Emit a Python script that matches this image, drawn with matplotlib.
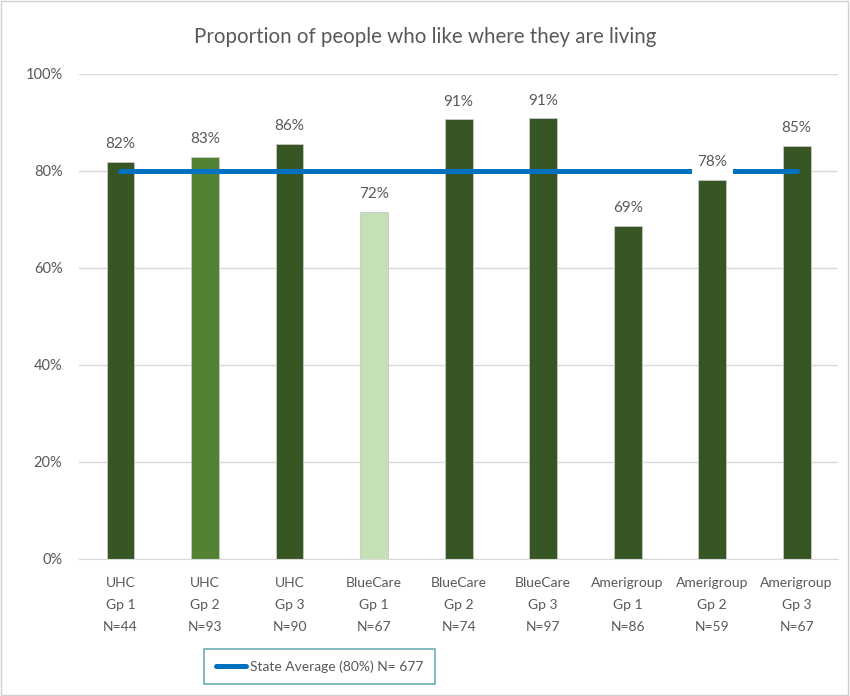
import matplotlib
matplotlib.use("Agg")
import matplotlib.pyplot as plt
from matplotlib.patches import Rectangle
from matplotlib.ticker import FuncFormatter

plt.rcParams["font.family"] = ["Lato", "DejaVu Sans"]

# data
groups = ["UHC\nGp 1\nN=44", "UHC\nGp 2\nN=93", "UHC\nGp 3\nN=90",
          "BlueCare\nGp 1\nN=67", "BlueCare\nGp 2\nN=74", "BlueCare\nGp 3\nN=97",
          "Amerigroup\nGp 1\nN=86", "Amerigroup\nGp 2\nN=59", "Amerigroup\nGp 3\nN=67"]
pct = [81.8, 82.9, 85.6, 71.6, 90.6, 90.8, 68.7, 78.1, 85.1]
state_avg = 80.0
colors = ["#375623", "#548235", "#375623", "#C5E0B4", "#375623",
          "#375623", "#375623", "#375623", "#375623"]

TXT = "#595959"

fig = plt.figure(figsize=(8.5, 6.96), dpi=100)
ax = fig.add_axes([0.093, 0.197, 0.893, 0.697])

x = list(range(len(groups)))
ax.bar(x, pct, width=0.33, color=colors, edgecolor="#C8C8C8", linewidth=0.6, zorder=2)
ax.plot(x, [state_avg] * len(x), color="#0070C0", linewidth=3.6,
        solid_capstyle="round", zorder=3, label="State Average (80%) N= 677")

for i, v in enumerate(pct):
    bb = dict(facecolor="white", edgecolor="none", pad=4) if i == 7 else None
    ax.text(i, v + 2.2, f"{v:.0f}%", ha="center", va="bottom", fontsize=11,
            color=TXT, bbox=bb, zorder=4)

ax.set_xlim(-0.49, len(groups) - 0.51)
ax.set_ylim(0, 100)
ax.set_yticks(range(0, 101, 20))
ax.yaxis.set_major_formatter(FuncFormatter(lambda v, _: f"{v:.0f}%"))
ax.set_xticks(x)
ax.set_xticklabels(groups, linespacing=2.0)
ax.tick_params(axis="both", length=0, labelsize=10.5, labelcolor=TXT)
ax.tick_params(axis="x", pad=13, labelsize=10)
ax.tick_params(axis="y", pad=12)
ax.grid(axis="y", color="#D9D9D9", linewidth=1, zorder=0)
ax.set_axisbelow(True)
for s in ["left", "right", "top"]:
    ax.spines[s].set_visible(False)
ax.spines["bottom"].set_color("#D9D9D9")

fig.text(0.5, 0.947, "Proportion of people who like where they are living",
         ha="center", va="center", fontsize=14.8, color=TXT)

leg = fig.legend(loc="center", bbox_to_anchor=(0.376, 0.042), frameon=True,
                 fancybox=False, handlelength=2.2, handletextpad=0.3,
                 borderpad=0.8, prop={"size": 10})
leg.get_frame().set_edgecolor("#4A9BA0")
leg.get_frame().set_linewidth(1.2)
for t in leg.get_texts():
    t.set_color(TXT)

fig.patches.append(Rectangle((0.001, 0.001), 0.997, 0.997, transform=fig.transFigure,
                             fill=False, edgecolor="#D0D0D0", linewidth=1))

fig.savefig("out.png", dpi=100)
